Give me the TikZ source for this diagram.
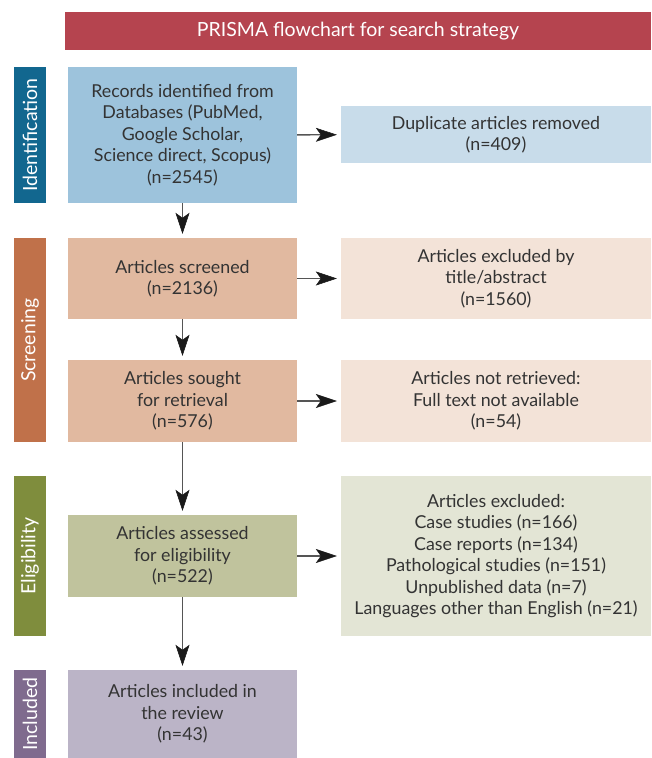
\documentclass[tikz,border=0pt]{standalone}
\usepackage{fontspec}
\setmainfont{Lato}
\usetikzlibrary{arrows.meta}

\definecolor{titlered}{HTML}{B5444F}
\definecolor{identblue}{HTML}{12678F}
\definecolor{recblue}{HTML}{9DC3DC}
\definecolor{duplblue}{HTML}{C8DCEA}
\definecolor{screenbrown}{HTML}{C0714A}
\definecolor{screenpeach}{HTML}{E1B9A0}
\definecolor{lightpeach}{HTML}{F3E3D8}
\definecolor{eligolive}{HTML}{7F8D3D}
\definecolor{assessgreen}{HTML}{C0C39D}
\definecolor{lightgreen}{HTML}{E3E5D5}
\definecolor{inclpurple}{HTML}{7F6B8E}
\definecolor{inclbox}{HTML}{BBB4C7}
\definecolor{textgray}{HTML}{333333}
\definecolor{linegray}{HTML}{555555}
\definecolor{tipblack}{HTML}{1A1A1A}

\tikzset{
  box/.style={inner sep=0pt, align=center, text=textgray,
    font=\fontsize{17.8}{21.5}\selectfont},
  leftbox/.style={box, minimum width=229pt},
  rightbox/.style={box, minimum width=310pt},
  phase/.style={inner sep=0pt, minimum height=32pt, rotate=90, text=white,
    font=\fontsize{19.5}{22}\selectfont},
  flow/.style={draw=linegray, line width=1.4pt, shorten >=4pt,
    -{Stealth[length=21pt, width=14pt, inset=5pt, line width=0.5pt, color=tipblack, fill=tipblack]}}
}

\begin{document}
\begin{tikzpicture}[x=1pt, y=-1pt]
    \useasboundingbox (0, 0) rectangle (651, 758);

    % heading
    \node[box, fill=titlered, text=white, minimum width=586pt, minimum height=38pt,
        font=\fontsize{19.5}{22}\selectfont]
        (title) at (358, 31) {PRISMA flowchart for search strategy};

    % phases down the left side
    \node[phase, fill=identblue, minimum width=136pt] (ident) at (30, 135) {Identification};
    \node[phase, fill=screenbrown, minimum width=204pt] (screen) at (30, 340) {Screening};
    \node[phase, fill=eligolive, minimum width=160pt] (elig) at (30, 556) {Eligibility};
    \node[phase, fill=inclpurple, minimum width=88pt] (incl) at (30, 714) {Included};

    % main column
    \node[leftbox, fill=recblue, minimum height=136pt] (records) at (182.5, 135)
        {Records identified from\\Databases (PubMed,\\Google Scholar,\\Science direct, Scopus)\\(n=2545)};
    \node[leftbox, fill=screenpeach, minimum height=81pt] (screened) at (182.5, 278.5)
        {Articles screened\\(n=2136)};
    \node[leftbox, fill=screenpeach, minimum height=82pt] (sought) at (182.5, 401)
        {Articles sought\\for retrieval\\(n=576)};
    \node[leftbox, fill=assessgreen, minimum height=82pt] (assessed) at (182.5, 556)
        {Articles assessed\\for eligibility\\(n=522)};
    \node[leftbox, fill=inclbox, minimum height=88pt] (included) at (182.5, 714)
        {Articles included in\\the review\\(n=43)};

    % exclusions on the right
    \node[rightbox, fill=duplblue, minimum height=57pt] (dupl) at (496, 134.5)
        {Duplicate articles removed\\(n=409)};
    \node[rightbox, fill=lightpeach, minimum height=81pt] (exctitle) at (496, 278.5)
        {Articles excluded by\\title/abstract\\(n=1560)};
    \node[rightbox, fill=lightpeach, minimum height=82pt] (notret) at (496, 401)
        {Articles not retrieved:\\Full text not available\\(n=54)};
    \node[rightbox, fill=lightgreen, minimum height=160pt] (excl) at (496, 556)
        {Articles excluded:\\Case studies (n=166)\\Case reports (n=134)\\Pathological studies (n=151)\\Unpublished data (n=7)\\Languages other than English (n=21)};

    \draw[flow] (records) -- (dupl);
    \draw[flow] (screened) -- (exctitle);
    \draw[flow] (sought) -- (notret);
    \draw[flow] (assessed) -- (excl);
    \draw[flow] (records) -- (screened);
    \draw[flow] (screened) -- (sought);
    \draw[flow] (sought) -- (assessed);
    \draw[flow] (assessed) -- (included);
\end{tikzpicture}
\end{document}
